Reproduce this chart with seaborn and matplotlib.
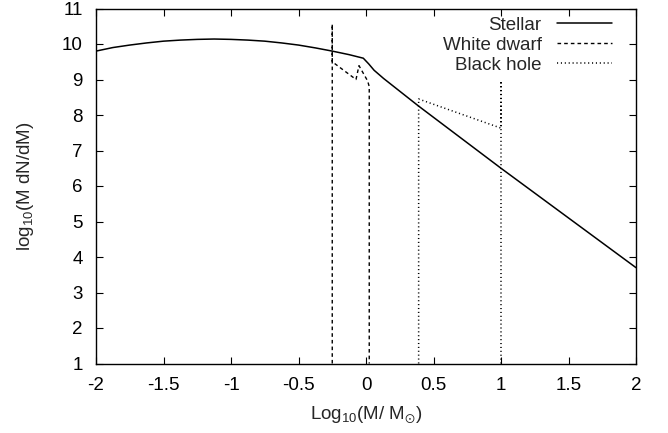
import matplotlib
matplotlib.use("Agg")
import matplotlib.pyplot as plt
import seaborn as sns
import pandas as pd

# Stellar mass function: log-normal part below ~1 Msun, power law above
stellar_logm = [-2.0, -1.875, -1.75, -1.625, -1.5, -1.375, -1.25, -1.125, -1.0,
                -0.875, -0.75, -0.625, -0.5, -0.375, -0.25, -0.125, -0.02,
                0.02, 0.06, 0.13, 0.39, 1.0, 1.5, 2.0]
stellar_logn = [9.80, 9.90, 9.97, 10.03, 10.08, 10.11, 10.13, 10.14, 10.13,
                10.11, 10.08, 10.03, 9.97, 9.89, 9.80, 9.70, 9.60,
                9.44, 9.26, 9.03, 8.25, 6.50, 5.10, 3.70]

# White dwarf remnants
wd_logm = [-0.25, -0.25, -0.25, -0.074, -0.052, 0.012, 0.024, 0.024]
wd_logn = [1.0, 10.56, 9.50, 9.00, 9.39, 8.96, 8.80, 1.0]

# Black hole remnants
bh_logm = [0.39, 0.39, 1.0, 1.0, 1.0]
bh_logn = [1.0, 8.45, 7.63, 8.96, 1.0]

xticks = [-2, -1.5, -1, -0.5, 0, 0.5, 1, 1.5, 2]
xtick_labels = ["-2", "-1.5", "-1", "-0.5", "0", "0.5", "1", "1.5", "2"]
yticks = [1, 2, 3, 4, 5, 6, 7, 8, 9, 10, 11]
ytick_labels = [str(v) for v in yticks]

sns.set_theme(style="ticks")
plt.rcParams["font.family"] = ["Liberation Sans", "DejaVu Sans"]
plt.rcParams["mathtext.fontset"] = "custom"
plt.rcParams["mathtext.rm"] = "Liberation Sans"
plt.rcParams["mathtext.default"] = "regular"
plt.rcParams["lines.scale_dashes"] = False

FS = 13.5

fig = plt.figure(figsize=(6.68, 4.33), dpi=100)
W, H = 668, 433
ax = fig.add_axes([96 / W, 1 - 363.5 / H, 540 / W, 355 / H])

stellar = pd.DataFrame({"x": stellar_logm, "y": stellar_logn})
wd = pd.DataFrame({"x": wd_logm, "y": wd_logn})
bh = pd.DataFrame({"x": bh_logm, "y": bh_logn})

sns.lineplot(data=stellar, x="x", y="y", sort=False, estimator=None, ax=ax,
             color="black", lw=1.1, label="Stellar")
sns.lineplot(data=wd, x="x", y="y", sort=False, estimator=None, ax=ax,
             color="black", lw=1.0, label="White dwarf")
sns.lineplot(data=bh, x="x", y="y", sort=False, estimator=None, ax=ax,
             color="black", lw=1.1, label="Black hole")
ax.lines[1].set_dashes((2.6, 2.2))
ax.lines[2].set_dashes((0.8, 2.0))

ax.set_xlim(-2, 2)
ax.set_ylim(1, 11)
ax.set_xticks(xticks)
ax.set_xticklabels(xtick_labels)
ax.set_yticks(yticks)
ax.set_yticklabels(ytick_labels)
ax.tick_params(direction="in", length=5, width=0.8, top=True, right=True,
               labelsize=FS, colors="black")
ax.tick_params(axis="x", pad=10)
ax.tick_params(axis="y", pad=9.5)
for s in ax.spines.values():
    s.set_linewidth(1.0)
    s.set_color("black")

ax.set_xlabel(r"Log$_{10}$(M/ M$_{\odot}$)", fontsize=FS, labelpad=7)
ax.set_ylabel(r"log$_{10}$(M dN/dM)", fontsize=FS, labelpad=19)

handles, labels = ax.get_legend_handles_labels()
for h in handles:
    h.set_color("black")
ax.legend(handles, labels, loc="upper right", bbox_to_anchor=(612 / W, 1 - 16.5 / H),
          bbox_transform=fig.transFigure, frameon=False, markerfirst=False,
          fontsize=FS, handlelength=2.93, handletextpad=0.82, labelspacing=0.155,
          borderpad=0, borderaxespad=0)

fig.savefig("out.png", dpi=100)
